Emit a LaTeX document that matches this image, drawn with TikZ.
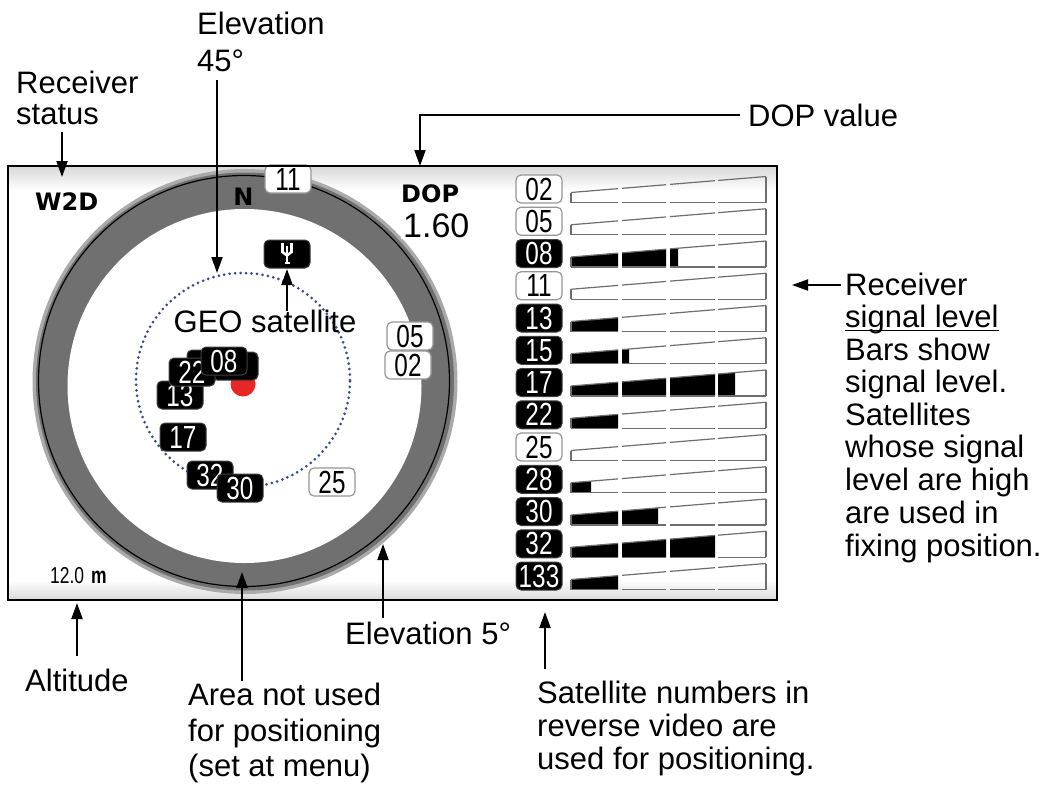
\documentclass[tikz,border=0pt]{standalone}
\usepackage{fontspec}
\setmainfont{Liberation Sans}
\newfontfamily\lcd[FakeStretch=0.76]{Liberation Sans}
\newfontfamily\lcdb{DejaVu Sans}
\usetikzlibrary{arrows.meta}
\definecolor{ringgray}{RGB}{112,112,112}
\definecolor{ringedge}{RGB}{170,170,170}
\definecolor{dotblue}{RGB}{55,75,145}
\definecolor{boxedge}{RGB}{150,150,150}
\definecolor{barcol}{RGB}{110,110,110}
\definecolor{dotred}{RGB}{232,38,38}
\tikzset{
  ann/.style={font=\fontsize{31}{33}\selectfont, anchor=base west, inner sep=0pt},
  arr/.style={line width=2pt, -{Triangle[length=16pt,width=11pt]}},
  used/.style={rounded corners=5pt, fill=black, draw=black!75, line width=1pt, text=white,
    minimum width=46pt, minimum height=28pt, inner sep=0pt, font=\lcd\fontsize{32}{32}\selectfont},
  unused/.style={rounded corners=5pt, fill=white, draw=boxedge, line width=1.2pt, text=black,
    minimum width=46pt, minimum height=28pt, inner sep=0pt, font=\lcd\fontsize{32}{32}\selectfont},
  barln/.style={draw=barcol, line width=1.2pt},
  lcdbold/.style={font=\lcdb\bfseries\fontsize{24}{24}\selectfont, anchor=base west, inner sep=0pt},
}
\newcommand{\sigbar}[2]{%
  \pgfmathsetmacro{\yb}{#1+13.5}%
  \pgfmathsetmacro{\yl}{\yb-10}%
  \pgfmathsetmacro{\yr}{\yb-26}%
  \foreach \xa/\xb in {571/618,622/666,670/715,718/766}{%
    \pgfmathsetmacro{\ta}{\yb-10-16*(\xa-571)/195}%
    \pgfmathsetmacro{\tb}{\yb-10-16*(\xb-571)/195}%
    \pgfmathsetmacro{\fe}{min(\xb,#2)}%
    \ifdim\fe pt>\xa pt
      \pgfmathsetmacro{\tf}{\yb-10-16*(\fe-571)/195}%
      \fill[black] (\xa,\yb) -- (\xa,\ta) -- (\fe,\tf) -- (\fe,\yb) -- cycle;
    \fi
    \draw[barln] (\xa,\ta) -- (\xb,\tb);
    \draw[barln] (\xa,\yb) -- (\xb,\yb);
  }%
  \draw[barln] (571,\yb) -- (571,\yl);
  \draw[barln] (766,\yb) -- (766,\yr);
}
\begin{document}
\begin{tikzpicture}[x=1pt,y=-1pt]
\useasboundingbox (0,0) rectangle (1055,788);
\fill[white] (0,0) rectangle (1055,788);
% display background bands
\shade[top color=gray!30, bottom color=white] (9,167) rectangle (776,190);
\shade[top color=white, bottom color=gray!28] (9,580) rectangle (776,599);
% sky ring
\fill[ringedge] (245,381.5) circle (212.5pt);
\fill[ringgray] (245,381.5) circle (209pt);
\fill[white] (244.5,386) circle (177pt);
\draw[line width=1.2pt] (244,381) circle (205.5pt);
% 45 degree circle
\draw[dotblue, line width=3pt, dash pattern=on 0pt off 5.5pt, line cap=round] (243,380) circle (107pt);
% own position
\node[circle, fill=dotred, minimum size=25pt, inner sep=0pt] (own) at (243,384) {};
% satellites in the plot (two hidden behind others)
\node[used] (p15) at (210,364) {};
\node[used] (p28) at (235,366) {};
\node[used] (p13) at (180,395) {13};
\node[used] (p22) at (192,372) {22};
\node[used] (p08) at (224,361) {08};
\node[used] (p17) at (183,437) {17};
\node[used] (p32) at (210,475) {32};
\node[used] (p30) at (240,488) {30};
\node[unused] (p25) at (332,482) {25};
\node[unused] (p05) at (410,336) {05};
\node[unused] (p02) at (408,365) {02};
\node[unused] (p11) at (288,179) {11};
% GEO satellite symbol
\node[used] (geo) at (287,254) {};
\draw[white, line width=2.6pt, line join=miter] (282.5,243) -- (282.5,252) -- (287,255.5) -- (291.5,252) -- (291.5,243);
\draw[white, line width=2.6pt] (287,246) -- (287,263);
\draw[white, line width=2pt] (284.5,262.5) -- (289.5,262.5);
% display texts
\node[lcdbold] (w2d) at (35,210) {W2D};
\node[lcdbold, anchor=base] (north) at (243.5,205) {N};
\node[lcdbold] (dop) at (401,202) {DOP};
\node[fill=white, inner sep=2pt, anchor=base west, font=\fontsize{34}{34}\selectfont] (dopval) at (401,237) {1.60};
\node[anchor=base west, inner sep=0pt, font=\lcd\fontsize{23}{23}\selectfont] (alt) at (50,583) {12.0\hspace{7pt}{\bfseries m}};
% satellite list
\node[unused] (s02) at (539,189) {02};
\node[unused] (s05) at (539,221.25) {05};
\node[used] (s08) at (539,253.5) {08};
\node[unused] (s11) at (539,285.75) {11};
\node[used] (s13) at (539,318) {13};
\node[used] (s15) at (539,350.25) {15};
\node[used] (s17) at (539,382.5) {17};
\node[used] (s22) at (539,414.75) {22};
\node[unused] (s25) at (539,447) {25};
\node[used] (s28) at (539,479.25) {28};
\node[used] (s30) at (539,511.5) {30};
\node[used] (s32) at (539,543.75) {32};
\node[used] (s133) at (539,576) {133};
% signal bars
\sigbar{189}{0}
\sigbar{221.25}{0}
\sigbar{253.5}{678}
\sigbar{285.75}{0}
\sigbar{318}{618}
\sigbar{350.25}{629}
\sigbar{382.5}{735}
\sigbar{414.75}{618}
\sigbar{447}{0}
\sigbar{479.25}{591}
\sigbar{511.5}{658}
\sigbar{543.75}{715}
\sigbar{576}{618}
% frame
\draw[line width=2.5pt] (8,166) rectangle (777,600);
% annotations
\node[ann] (rs1) at (16,93) {Receiver};
\node[ann] (rs2) at (16,124) {status};
\node[ann] (el1) at (197,34) {Elevation};
\node[ann] (el2) at (197,71) {45°};
\node[ann] (dv) at (748,126) {DOP value};
\node[ann, anchor=base] (geot) at (265,332) {GEO satellite};
\node[ann] (r1) at (845,295) {Receiver};
\node[ann] (r2) at (845,327) {signal level};
\node[ann] (r3) at (845,360) {Bars show};
\node[ann] (r4) at (845,392) {signal level.};
\node[ann] (r5) at (845,425) {Satellites};
\node[ann] (r6) at (845,457) {whose signal};
\node[ann] (r7) at (845,490) {level are high};
\node[ann] (r8) at (845,523) {are used in};
\node[ann] (r9) at (845,556) {fixing position.};
\draw[line width=1.5pt] ([yshift=-3.5pt]r2.base west) -- ([yshift=-3.5pt]r2.base east);
\node[ann] (e5) at (345,644) {Elevation 5°};
\node[ann] (altt) at (25,691) {Altitude};
\node[ann] (a1) at (188,705) {Area not used};
\node[ann] (a2) at (188,741) {for positioning};
\node[ann] (a3) at (188,776) {(set at menu)};
\node[ann] (n1) at (537,703) {Satellite numbers in};
\node[ann] (n2) at (537,736) {reverse video are};
\node[ann] (n3) at (537,769) {used for positioning.};
% arrow ends
\coordinate (stA) at (62,132);  \coordinate (stT) at (62,177);
\coordinate (e45A) at (217,80); \coordinate (e45T) at (217,273);
\coordinate (dvA) at (740,115); \coordinate (dvT) at (420,166);
\coordinate (geoA) at (287,311); \coordinate (geoT) at (287,269);
\coordinate (rcA) at (841,285); \coordinate (rcT) at (792,285);
\coordinate (alA) at (77,656); \coordinate (alT) at (77,603);
\coordinate (arA) at (242,681); \coordinate (arT) at (242,572);
\coordinate (e5A) at (383,618); \coordinate (e5T) at (383,544);
\coordinate (snA) at (545,669); \coordinate (snT) at (545,612);
\draw[arr] (stA) -- (stT);
\draw[arr] (e45A) -- (e45T);
\draw[arr] (dvA) -| (dvT);
\draw[arr] (geoA) -- (geoT);
\draw[arr] (rcA) -- (rcT);
\draw[arr] (alA) -- (alT);
\draw[arr] (arA) -- (arT);
\draw[arr] (e5A) -- (e5T);
\draw[arr] (snA) -- (snT);
\end{tikzpicture}
\end{document}
